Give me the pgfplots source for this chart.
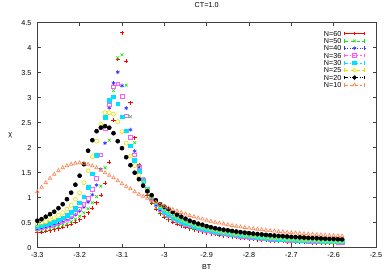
\documentclass[border=0pt]{standalone}
\usepackage{fontspec}
\setmainfont{Liberation Sans}
\usepackage{pgfplots}
\usepackage{pgfplotstable}
\pgfplotsset{compat=1.18}
\definecolor{c60}{RGB}{255,0,0}
\definecolor{c50}{RGB}{20,225,20}
\definecolor{c40}{RGB}{50,50,255}
\definecolor{c36}{RGB}{255,90,255}
\definecolor{c30}{RGB}{0,225,255}
\definecolor{c25}{RGB}{235,225,0}
\definecolor{c20}{RGB}{0,0,0}
\definecolor{c10}{RGB}{255,130,80}
\pgfplotstableread{
x n60 n50 n40 n36 n30 n25 n20 n10
-3.30 0.30 0.33 0.37 0.39 0.42 0.46 0.54 1.12
-3.29 0.31 0.35 0.39 0.41 0.44 0.49 0.57 1.21
-3.28 0.33 0.36 0.41 0.43 0.46 0.52 0.62 1.30
-3.27 0.34 0.38 0.43 0.45 0.49 0.56 0.67 1.39
-3.26 0.36 0.40 0.45 0.48 0.52 0.60 0.72 1.47
-3.25 0.38 0.42 0.48 0.51 0.56 0.65 0.79 1.54
-3.24 0.41 0.45 0.51 0.55 0.60 0.70 0.87 1.60
-3.23 0.44 0.48 0.55 0.59 0.65 0.77 0.97 1.64
-3.22 0.47 0.52 0.60 0.64 0.71 0.85 1.10 1.67
-3.21 0.51 0.57 0.66 0.70 0.79 0.97 1.26 1.69
-3.20 0.56 0.63 0.73 0.78 0.90 1.10 1.44 1.70
-3.19 0.62 0.70 0.81 0.87 1.02 1.30 1.67 1.69
-3.18 0.70 0.78 0.91 0.99 1.21 1.54 1.94 1.67
-3.17 0.79 0.90 1.06 1.17 1.48 1.82 2.15 1.64
-3.16 0.90 1.02 1.25 1.39 1.85 2.13 2.33 1.60
-3.15 1.05 1.23 1.57 1.86 2.42 2.47 2.40 1.55
-3.14 1.29 1.60 2.09 2.38 2.61 2.70 2.43 1.50
-3.13 1.71 2.15 2.80 2.86 2.95 2.70 2.40 1.45
-3.12 2.55 3.14 3.29 3.22 3.02 2.67 2.29 1.40
-3.11 3.77 3.80 3.51 3.28 2.88 2.52 2.13 1.34
-3.10 4.30 3.86 3.24 3.03 2.62 2.32 1.99 1.28
-3.09 3.73 3.25 2.79 2.64 2.34 2.09 1.81 1.23
-3.08 2.90 2.62 2.36 2.21 2.04 1.83 1.65 1.18
-3.07 2.20 2.10 1.93 1.86 1.75 1.64 1.50 1.12
-3.06 1.66 1.65 1.60 1.62 1.53 1.45 1.37 1.07
-3.05 1.28 1.33 1.38 1.36 1.33 1.29 1.24 1.03
-3.04 1.04 1.08 1.14 1.15 1.17 1.15 1.13 0.99
-3.03 0.89 0.92 0.96 0.98 1.02 1.03 1.05 0.95
-3.02 0.77 0.80 0.84 0.86 0.90 0.93 0.95 0.91
-3.01 0.68 0.71 0.75 0.77 0.81 0.84 0.87 0.87
-3.00 0.61 0.64 0.68 0.70 0.73 0.77 0.82 0.83
-2.99 0.56 0.585 0.62 0.64 0.67 0.71 0.77 0.795
-2.98 0.515 0.54 0.57 0.59 0.615 0.655 0.71 0.765
-2.97 0.475 0.50 0.53 0.545 0.57 0.61 0.66 0.735
-2.96 0.44 0.465 0.495 0.51 0.53 0.567 0.62 0.705
-2.95 0.41 0.435 0.46 0.475 0.495 0.53 0.58 0.675
-2.94 0.385 0.405 0.43 0.445 0.463 0.497 0.54 0.645
-2.93 0.36 0.38 0.405 0.418 0.435 0.467 0.51 0.62
-2.92 0.34 0.355 0.38 0.393 0.41 0.44 0.48 0.595
-2.91 0.32 0.335 0.355 0.37 0.386 0.415 0.46 0.572
-2.90 0.30 0.315 0.335 0.348 0.365 0.392 0.43 0.55
-2.89 0.285 0.30 0.318 0.33 0.345 0.372 0.41 0.53
-2.88 0.27 0.285 0.302 0.313 0.328 0.353 0.39 0.51
-2.87 0.256 0.27 0.287 0.297 0.312 0.336 0.375 0.492
-2.86 0.243 0.257 0.273 0.283 0.297 0.32 0.36 0.475
-2.85 0.231 0.245 0.26 0.27 0.283 0.305 0.347 0.46
-2.84 0.22 0.233 0.248 0.258 0.27 0.292 0.335 0.445
-2.83 0.209 0.222 0.236 0.246 0.258 0.279 0.323 0.43
-2.82 0.199 0.211 0.225 0.235 0.247 0.267 0.312 0.417
-2.81 0.19 0.201 0.215 0.225 0.237 0.256 0.301 0.404
-2.80 0.181 0.192 0.205 0.215 0.228 0.246 0.291 0.392
-2.79 0.173 0.184 0.196 0.206 0.219 0.236 0.282 0.381
-2.78 0.166 0.176 0.188 0.198 0.21 0.227 0.273 0.37
-2.77 0.159 0.169 0.18 0.19 0.202 0.219 0.265 0.36
-2.76 0.152 0.162 0.173 0.183 0.195 0.211 0.257 0.35
-2.75 0.146 0.156 0.167 0.176 0.188 0.204 0.25 0.341
-2.74 0.14 0.15 0.161 0.17 0.181 0.197 0.243 0.332
-2.73 0.135 0.145 0.155 0.164 0.175 0.19 0.236 0.323
-2.72 0.13 0.14 0.15 0.159 0.169 0.184 0.23 0.315
-2.71 0.125 0.135 0.146 0.154 0.164 0.178 0.224 0.307
-2.70 0.121 0.13 0.142 0.15 0.159 0.173 0.218 0.30
-2.69 0.117 0.126 0.138 0.146 0.155 0.168 0.213 0.293
-2.68 0.113 0.122 0.134 0.142 0.151 0.163 0.208 0.286
-2.67 0.11 0.118 0.13 0.138 0.147 0.159 0.203 0.28
-2.66 0.107 0.115 0.127 0.134 0.143 0.155 0.198 0.274
-2.65 0.104 0.112 0.124 0.131 0.14 0.151 0.194 0.268
-2.64 0.101 0.109 0.121 0.128 0.137 0.147 0.19 0.262
-2.63 0.099 0.106 0.118 0.125 0.134 0.144 0.186 0.257
-2.62 0.097 0.104 0.115 0.122 0.131 0.141 0.182 0.252
-2.61 0.095 0.102 0.112 0.119 0.128 0.138 0.178 0.247
-2.60 0.093 0.10 0.11 0.117 0.125 0.135 0.175 0.242
-2.59 0.091 0.098 0.107 0.114 0.123 0.132 0.171 0.238
-2.58 0.09 0.096 0.105 0.112 0.121 0.13 0.168 0.234
}\chidata
\pgfplotsset{
  myleg/.style n args={3}{legend image code/.code={
    \draw[draw=#1,line width=0.5bp,#3] (0bp,0bp)--(20bp,0bp);
    \draw[draw=#1,line width=0.5bp] (0bp,-1.8bp)--(0bp,1.8bp) (20bp,-1.8bp)--(20bp,1.8bp);
    \draw[color=#1,line width=0.6bp,mark size=1.9bp,#2] plot coordinates {(10bp,0bp)};
  }}
}
\begin{document}
\fontsize{7.2bp}{8.5bp}\selectfont
\begin{tikzpicture}
\useasboundingbox (0,0) rectangle (389bp,273bp);
\begin{axis}[
  at={(37.3bp,25.3bp)}, anchor=south west,
  scale only axis, width=338.7bp, height=225bp,
  xmin=-3.3, xmax=-2.5, ymin=0, ymax=4.5,
  xtick={-3.3,-3.2,-3.1,-3.0,-2.9,-2.8,-2.7,-2.6,-2.5},
  xticklabels={-3.3,-3.2,-3.1,-3,-2.9,-2.8,-2.7,-2.6,-2.5},
  ytick={0,0.5,1,1.5,2,2.5,3,3.5,4,4.5},
  yticklabels={0,0.5,1,1.5,2,2.5,3,3.5,4,4.5},
  tick align=inside, tick pos=both,
  major tick length=3.5bp,
  every tick/.style={black!75, line width=0.5bp},
  axis line style={black!75, line width=0.5bp},
  ticklabel style={font=\fontsize{7.2bp}{8.5bp}\selectfont},
  xticklabel style={yshift=-2.3bp},
  yticklabel style={xshift=-3.2bp},
  title={CT=1.0},
  title style={at={(axis description cs:0.5,1)}, anchor=base, yshift=9.7bp, inner sep=0pt, font=\fontsize{7.2bp}{8.5bp}\selectfont},
  xlabel={BT},
  xlabel style={at={(axis description cs:0.5,0)}, anchor=base, yshift=-21.5bp, inner sep=0pt, font=\fontsize{7.2bp}{8.5bp}\selectfont},
  ylabel={χ},
  ylabel style={at={(axis description cs:0,0.5)}, anchor=center, rotate=-90, xshift=-27bp, inner sep=0pt, font=\fontsize{7.2bp}{8.5bp}\selectfont},
  legend plot pos=right,
  legend cell align=right,
  legend style={draw=none, fill=none, at={(axis cs:-2.5,4.5)}, anchor=north east,
    xshift=-8bp, yshift=-6bp,
    font=\fontsize{7.2bp}{8.5bp}\selectfont,
    row sep=2bp,
    nodes={inner sep=0pt, text height=5.33bp, text depth=0pt},
    column sep=3bp},
]
\addplot[only marks, c60, mark=+, mark size=2.1bp, line width=0.6bp, myleg={c60}{mark=+}{solid}] table[x=x,y=n60]{\chidata};
\addlegendentry{N=60}
\addplot[only marks, c50, mark=x, mark size=2bp, line width=0.6bp, myleg={c50}{mark=x}{dashed}] table[x=x,y=n50]{\chidata};
\addlegendentry{N=50}
\addplot[only marks, c40, mark=asterisk, mark size=2bp, line width=0.6bp, myleg={c40}{mark=asterisk}{dotted}] table[x=x,y=n40]{\chidata};
\addlegendentry{N=40}
\addplot[only marks, c36, mark=square, mark size=1.9bp, line width=0.6bp, myleg={c36}{mark=square}{dash dot}] table[x=x,y=n36]{\chidata};
\addlegendentry{N=36}
\addplot[only marks, c30, mark=square*, mark size=1.9bp, line width=0.6bp, mark options={fill=c30}, myleg={c30}{mark=square*,mark options={fill=c30}}{dash dot}] table[x=x,y=n30]{\chidata};
\addlegendentry{N=30}
\addplot[only marks, c25, mark=o, mark size=2bp, line width=0.6bp, myleg={c25}{mark=o}{dashed}] table[x=x,y=n25]{\chidata};
\addlegendentry{N=25}
\addplot[only marks, c20, mark=*, mark size=2bp, line width=0.6bp, mark options={fill=c20}, myleg={c20}{mark=*,mark options={fill=c20}}{dash dot dot}] table[x=x,y=n20]{\chidata};
\addlegendentry{N=20}
\addplot[only marks, c10, mark=triangle, mark size=2bp, line width=0.6bp, myleg={c10}{mark=triangle}{densely dashed}] table[x=x,y=n10]{\chidata};
\addlegendentry{N=10}
\end{axis}
\end{tikzpicture}
\end{document}
